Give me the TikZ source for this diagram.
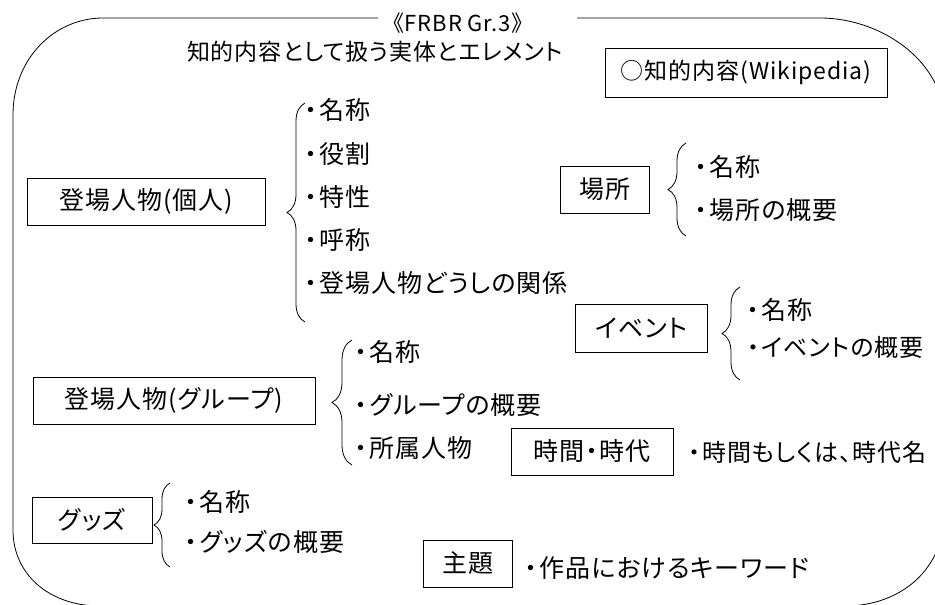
\documentclass[tikz,border=0pt]{standalone}
\usepackage{fontspec}
\setmainfont[RawFeature=+palt, LetterSpace=4]{Noto Sans CJK JP}
\usetikzlibrary{decorations.pathreplacing}
\newcommand\bul{・\kern2pt}
\tikzset{
  lw/.style={line width=0.8pt},
  ebox/.style={draw, lw, inner sep=0pt, anchor=center, font=\fontsize{25}{30}\selectfont},
  item/.style={anchor=west, inner sep=0pt, font=\fontsize{25}{30}\selectfont},
  smallitem/.style={item, font=\fontsize{24}{29}\selectfont},
  cbrace/.style={draw, lw, decorate, decoration={brace, amplitude=#1}},
}
\begin{document}
\begin{tikzpicture}[x=1pt,y=-1pt]
\useasboundingbox (0,0) rectangle (935,605);
\clip (0,0) rectangle (935,605);
% outer frame
\draw[lw] (378,18) -- (103,18) .. controls (55,18) and (13,58) .. (13,115)
  -- (13,530) .. controls (13,575) and (50,606) .. (100,606)
  -- (845,606) .. controls (900,606) and (945,570) .. (945,510)
  -- (945,125) .. controls (945,60) and (880,18) .. (820,18) -- (577,18);
% title
\node[inner sep=0pt, font=\fontsize{22}{26}\selectfont] (t1) at (458,23) {《FRBR Gr.3》};
\node[inner sep=0pt, font=\fontsize{23}{27}\selectfont] (t2) at (375,52) {知的内容として扱う実体とエレメント};
\node[ebox, minimum width=282, minimum height=49, font=\fontsize{23}{27}\selectfont] (wiki) at (746,72.5) {○知的内容(Wikipedia)};
% entity boxes
\node[ebox, minimum width=238, minimum height=47] (p1) at (146,201.5) {登場人物(個人)};
\node[ebox, minimum width=89, minimum height=47] (place) at (604.5,189.5) {場所};
\node[ebox, minimum width=132, minimum height=48] (event) at (641,328) {イベント};
\node[ebox, minimum width=282, minimum height=47] (group) at (174,400.5) {登場人物(グループ)};
\node[ebox, minimum width=162, minimum height=47] (time) at (592,451.5) {時間・時代};
\node[ebox, minimum width=120, minimum height=46] (goods) at (92,520) {グッズ};
\node[ebox, minimum width=89, minimum height=47] (theme) at (467.5,563.5) {主題};
% braces
\coordinate (b1a) at (305,322); \coordinate (b1b) at (305,103);
\draw[cbrace=18] (b1a) -- (b1b);
\coordinate (b2a) at (686,236); \coordinate (b2b) at (686,143);
\draw[cbrace=18] (b2a) -- (b2b);
\coordinate (b3a) at (740,380); \coordinate (b3b) at (740,287);
\draw[cbrace=18] (b3a) -- (b3b);
\coordinate (b4a) at (352,465); \coordinate (b4b) at (352,340);
\draw[cbrace=20] (b4a) -- (b4b);
\coordinate (b5a) at (170,567); \coordinate (b5b) at (170,483);
\draw[cbrace=16] (b5a) -- (b5b);
% items
\node[item] (i11) at (305,110) {\bul 名称};
\node[item] (i12) at (305,154) {\bul 役割};
\node[item] (i13) at (305,197) {\bul 特性};
\node[item] (i14) at (305,240) {\bul 呼称};
\node[item] (i15) at (305,283) {\bul 登場人物どうしの関係};
\node[item] (i21) at (695,167) {\bul 名称};
\node[item] (i22) at (695,210) {\bul 場所の概要};
\node[item] (i31) at (747,310) {\bul 名称};
\node[smallitem] (i32) at (747,347) {\bul イベントの概要};
\node[item] (i41) at (355,352) {\bul 名称};
\node[item] (i42) at (355,405) {\bul グループの概要};
\node[item] (i43) at (355,448) {\bul 所属人物};
\node[item] (i51) at (185,502) {\bul 名称};
\node[item] (i52) at (185,542) {\bul グッズの概要};
\node[smallitem] (i61) at (688,452) {\bul 時間もしくは、時代名};
\node[item] (i71) at (525,568) {\bul 作品におけるキーワード};
\end{tikzpicture}
\end{document}
